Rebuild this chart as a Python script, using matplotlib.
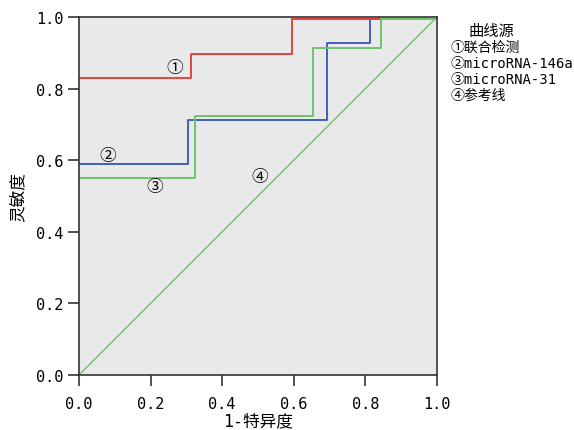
import matplotlib
matplotlib.use('Agg')
import matplotlib.pyplot as plt

plt.rcParams['font.family'] = ['DejaVu Sans Mono', 'Noto Sans CJK SC']

# ROC 曲线数据 (1-特异度, 灵敏度)
combo_x = [0.0, 0.312, 0.312, 0.594, 0.594, 1.0]
combo_y = [0.830, 0.830, 0.897, 0.897, 0.995, 0.995]

mir146_x = [0.0, 0.305, 0.305, 0.692, 0.692, 0.813, 0.813, 1.0]
mir146_y = [0.590, 0.590, 0.713, 0.713, 0.927, 0.927, 0.995, 0.995]

mir31_x = [0.0, 0.325, 0.325, 0.654, 0.654, 0.844, 0.844, 1.0]
mir31_y = [0.550, 0.550, 0.724, 0.724, 0.914, 0.914, 0.995, 0.995]

ref_x = [0.0, 1.0]
ref_y = [0.0, 1.0]

ticks = [0.0, 0.2, 0.4, 0.6, 0.8, 1.0]
legend_lines = ['曲线源', '①联合检测', '②microRNA-146a', '③microRNA-31', '④参考线']

fig = plt.figure(figsize=(5.74, 4.31), dpi=100)
ax = fig.add_axes([0.1376, 0.1276, 0.6237, 0.8306])
ax.set_facecolor('#e9e9e9')

ax.plot(ref_x, ref_y, color='#6cc46c', lw=1.0)
ax.plot(mir146_x, mir146_y, color='#4060bf', lw=1.4)
ax.plot(combo_x, combo_y, color='#e8423c', lw=1.4)
ax.plot(mir31_x, mir31_y, color='#6cc46c', lw=1.4)

ax.text(0.268, 0.86, '①', fontsize=12, ha='center', va='center')
ax.text(0.080, 0.615, '②', fontsize=12, ha='center', va='center')
ax.text(0.212, 0.528, '③', fontsize=12, ha='center', va='center')
ax.text(0.506, 0.556, '④', fontsize=12, ha='center', va='center')

ax.set_xlim(0, 1)
ax.set_ylim(0, 1)
ax.set_xticks(ticks)
ax.set_yticks(ticks)
ax.set_xticklabels([f'{t:.1f}' for t in ticks], fontsize=11)
ax.set_yticklabels([f'{t:.1f}' for t in ticks], fontsize=11)
ax.tick_params(axis='x', direction='out', length=8, width=1.2, color='#333333', pad=7)
ax.tick_params(axis='y', direction='out', length=8, width=1.2, color='#333333', pad=3)
for s in ax.spines.values():
    s.set_color('#333333')
    s.set_linewidth(1.2)

ax.set_xlabel('1-特异度', fontsize=12, labelpad=0)
ax.set_ylabel('灵敏度', fontsize=12, labelpad=7)

# 右侧图例文字
fig.text(0.817, 0.926, legend_lines[0], fontsize=11, va='center')
for i, line in enumerate(legend_lines[1:]):
    fig.text(0.785, 0.889 - i * 0.0371, line, fontsize=10, va='center')

fig.savefig('out.png', dpi=100)
